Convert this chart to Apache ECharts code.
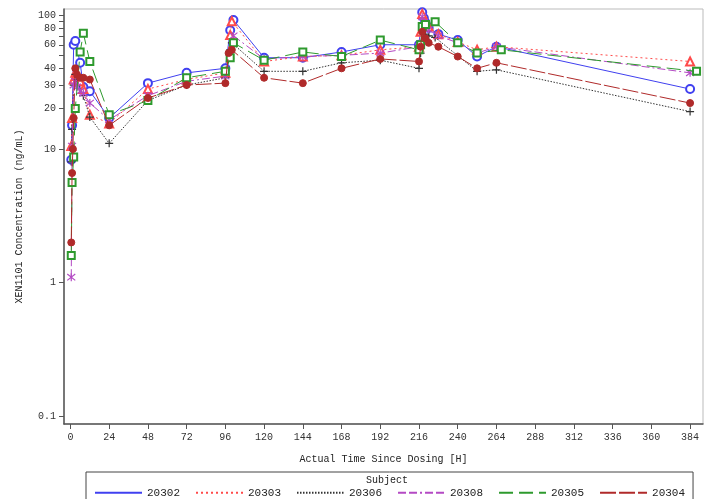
<!DOCTYPE html>
<html>
<head>
<meta charset="utf-8">
<script src="https://cdn.jsdelivr.net/npm/echarts@6/dist/echarts.min.js"></script>
<style>html,body{margin:0;padding:0;background:#fff;}#c{width:705px;height:499px;}</style>
</head>
<body>
<div id="c"></div>
<script>
// Subjects
var subjects = ['20302', '20303', '20306', '20308', '20305', '20304'];
// Tick labels
var xTicks = [0, 24, 48, 72, 96, 120, 144, 168, 192, 216, 240, 264, 288, 312, 336, 360, 384];
var yLabels = [0.1, 1, 10, 20, 30, 40, 60, 80, 100];
var yTicks = [0.1, 1, 10, 20, 30, 40, 50, 60, 70, 80, 90, 100];

// 20302
var t20302 = [0.5, 1, 2, 3, 6, 8, 12, 24, 48, 72, 96, 99, 101, 120, 144, 168, 192, 216, 218, 219, 220, 222, 228, 240, 252, 264, 384];
var c20302 = [8.3, 15, 60, 64, 44, 29, 27, 17, 31, 37, 40, 77, 92, 48, 48, 53, 60, 60, 105, 95, 88, 80, 72, 65, 49, 58, 28];
// 20303
var t20303 = [0.5, 1, 2, 3, 4, 6, 8, 12, 24, 48, 72, 96, 99, 100, 120, 144, 168, 192, 216, 217, 218, 220, 222, 228, 240, 252, 264, 384];
var c20303 = [10.5, 17, 33, 37, 35, 32, 28, 18, 15.5, 28, 33, 37, 71, 90, 45, 49, 50, 55, 58, 75, 102, 90, 82, 72, 63, 55, 58, 45];
// 20306
var t20306 = [0.5, 1, 2, 3, 4, 8, 12, 24, 48, 72, 96, 99, 100, 120, 144, 168, 192, 216, 217, 218, 220, 222, 226, 252, 264, 384];
var c20306 = [8, 14, 30, 36, 33, 25, 17.3, 11, 23, 30, 34, 55, 62, 38, 38, 44, 46, 40, 52, 78, 72, 70, 68, 38, 39, 19];
// 20308
var t20308 = [0.5, 1, 2, 3, 4, 6, 8, 12, 24, 48, 72, 96, 99, 101, 120, 144, 168, 192, 216, 218, 219, 222, 228, 240, 252, 264, 384];
var c20308 = [1.1, 10.5, 30, 32, 29, 27, 26, 22, 16.5, 25, 32, 35, 50, 70, 47, 49, 50, 52, 58, 97, 88, 78, 70, 62, 52, 58, 37];
// 20305
var t20305 = [0.5, 1, 2, 3, 6, 8, 12, 24, 48, 72, 96, 99, 101, 120, 144, 168, 192, 216, 217, 218, 220, 226, 240, 252, 267, 388];
var c20305 = [1.6, 5.6, 8.7, 20, 53, 73, 45, 18, 23, 34, 38, 48, 62, 46, 53, 49, 65, 55, 60, 82, 85, 89, 62, 52, 55, 38];
// 20304
var t20304 = [0.5, 1, 1.5, 2, 3, 4, 6, 8, 12, 24, 48, 72, 96, 98, 100, 120, 144, 168, 192, 216, 217, 218, 220, 222, 228, 240, 252, 264, 384];
var c20304 = [2.0, 6.6, 10, 17, 40, 36, 34, 34, 33, 15, 24, 30, 31, 52, 55, 34, 31, 40, 47, 45, 58, 75, 67, 62, 58, 49, 40, 44, 22];

var times = [t20302, t20303, t20306, t20308, t20305, t20304];
var concs = [c20302, c20303, c20306, c20308, c20305, c20304];

var colors = ['#4040f0', '#ff4a4a', '#333333', '#b44ac4', '#2e9a2e', '#b02a2a'];
var dashes = ['solid', [2, 3], [1.5, 1.5], [8, 3, 8, 3, 2, 3], [14, 6], [16, 3]];
var symbols = [
  'emptyCircle', 'emptyTriangle',
  'path://M0,5L10,5M5,0L5,10',
  'path://M1,1L9,9M9,1L1,9M5,0L5,10',
  'emptyRect', 'circle'
];
var sizes = [8, 8, 8, 8, 7, 7];
var FONT = 'Liberation Mono';

function pairs(t, c) {
  var out = [];
  for (var i = 0; i < t.length; i++) out.push([t[i], c[i]]);
  return out;
}

var series = subjects.map(function (s, i) {
  var isPath = symbols[i].indexOf('path://') === 0;
  return {
    name: s,
    type: 'line',
    data: pairs(times[i], concs[i]),
    symbol: symbols[i],
    symbolSize: sizes[i],
    showAllSymbol: true,
    lineStyle: { color: colors[i], width: 1, type: dashes[i] },
    itemStyle: isPath ? { color: 'none', borderColor: colors[i], borderWidth: 1.2 }
                      : { color: colors[i], borderColor: colors[i], borderWidth: 1 },
    z: 2 + i
  };
});

var chart = echarts.init(document.getElementById('c'), null, { renderer: 'canvas' });
chart.setOption({
  animation: false,
  backgroundColor: '#fff',
  title: {
    text: 'Subject',
    left: 366, top: 475, padding: 0,
    textStyle: { fontFamily: FONT, fontSize: 10, fontWeight: 'normal', color: '#222' }
  },
  grid: {
    left: 64, right: 2, top: 9, bottom: 75,
    show: true, borderColor: '#bbbbbb', borderWidth: 1
  },
  legend: {
    data: subjects,
    left: 86, top: 472,
    width: 611,
    padding: [15, 8, 6, 8],
    itemGap: 15,
    itemWidth: 47, itemHeight: 8,
    borderColor: '#444', borderWidth: 1,
    itemStyle: { opacity: 0 },
    textStyle: { fontFamily: FONT, fontSize: 11, color: '#222' },
    selectedMode: false
  },
  xAxis: {
    type: 'value',
    min: -4, max: 392,
    name: 'Actual Time Since Dosing [H]',
    nameLocation: 'middle', nameGap: 30,
    nameTextStyle: { fontFamily: FONT, fontSize: 10, color: '#222' },
    axisLine: { show: true, onZero: false, lineStyle: { color: '#555', width: 1.5 } },
    axisTick: { show: true, length: 5, lineStyle: { color: '#555' }, customValues: xTicks },
    axisLabel: { fontFamily: FONT, fontSize: 10, color: '#333', margin: 8, customValues: xTicks },
    splitLine: { show: false }
  },
  yAxis: {
    type: 'log',
    logBase: 10,
    min: 0.088, max: 111,
    name: 'XEN1101 Concentration (ng/mL)',
    nameLocation: 'middle', nameGap: 40,
    nameTextStyle: { fontFamily: FONT, fontSize: 10, color: '#222' },
    axisLine: { show: true, onZero: false, lineStyle: { color: '#555', width: 1.5 } },
    axisTick: { show: true, length: 5, lineStyle: { color: '#555' }, customValues: yTicks },
    axisLabel: {
      fontFamily: FONT, fontSize: 10, color: '#333', margin: 8, customValues: yLabels,
      formatter: function (v) { return String(+v.toPrecision(3)); }
    },
    splitLine: { show: false },
    minorTick: { show: false }
  },
  series: series
});
</script>
</body>
</html>
